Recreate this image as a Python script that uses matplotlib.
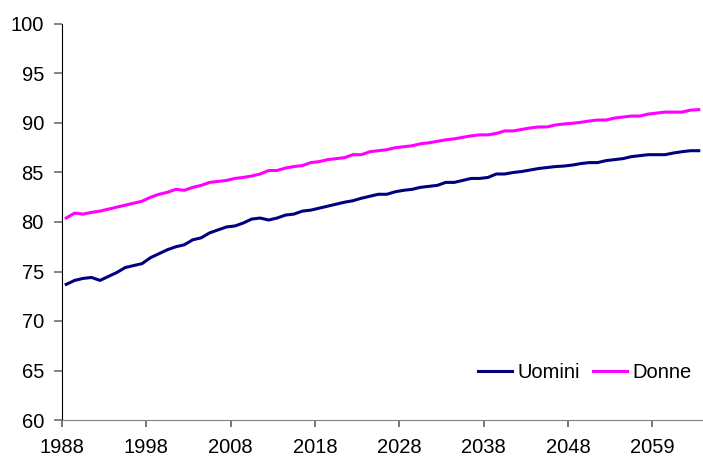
import numpy as np
import matplotlib.pyplot as plt

plt.rcParams['font.family'] = ['Liberation Sans', 'DejaVu Sans']

# years on the category axis (one year is missing in the source series)
years = list(range(1988, 2051)) + list(range(2052, 2065))

uomini = [73.7, 74.1, 74.3, 74.4, 74.1, 74.5, 74.9, 75.4, 75.6, 75.8,
          76.4, 76.8, 77.2, 77.5, 77.7, 78.2, 78.4, 78.9, 79.2, 79.5,
          79.6, 79.9, 80.3, 80.4, 80.2, 80.4, 80.7, 80.8, 81.1, 81.2,
          81.4, 81.6, 81.8, 82.0, 82.15, 82.4, 82.6, 82.8, 82.8, 83.05,
          83.2, 83.3, 83.5, 83.6, 83.7, 84.0, 84.0, 84.2, 84.4, 84.4,
          84.5, 84.85, 84.85, 85.0, 85.1, 85.25, 85.4, 85.5, 85.6, 85.65,
          85.75, 85.9, 86.0, 86.0, 86.2, 86.3, 86.4, 86.6, 86.7, 86.8,
          86.8, 86.8, 86.97, 87.1, 87.2, 87.2]

donne = [80.4, 80.9, 80.8, 80.97, 81.1, 81.3, 81.5, 81.7, 81.9, 82.1,
         82.5, 82.8, 83.0, 83.3, 83.2, 83.5, 83.7, 84.0, 84.1, 84.2,
         84.4, 84.5, 84.65, 84.85, 85.2, 85.2, 85.45, 85.6, 85.7, 86.0,
         86.1, 86.3, 86.4, 86.5, 86.8, 86.8, 87.1, 87.2, 87.3, 87.5,
         87.6, 87.7, 87.9, 88.0, 88.15, 88.3, 88.4, 88.55, 88.7, 88.8,
         88.8, 88.95, 89.2, 89.2, 89.35, 89.5, 89.6, 89.6, 89.8, 89.9,
         89.97, 90.07, 90.2, 90.3, 90.3, 90.5, 90.6, 90.7, 90.7, 90.9,
         91.0, 91.1, 91.1, 91.1, 91.3, 91.35]

yticks = [60, 65, 70, 75, 80, 85, 90, 95, 100]

fig = plt.figure(figsize=(7.03, 4.59), dpi=100)
ax = fig.add_axes([62/703, 1 - 420/459, 641/703, 396/459])

idx = np.arange(len(years))
ax.plot(idx, uomini, color='#000080', linewidth=2.2, label='Uomini')
ax.plot(idx, donne, color='#FF00FF', linewidth=2.2, label='Donne')

ax.set_xlim(-0.5, len(years) - 0.5)
ax.set_ylim(60, 100)
ax.set_yticks(yticks)
ax.set_yticklabels([str(v) for v in yticks])
tick_idx = list(range(0, len(years), 10))
ax.set_xticks([i - 0.5 for i in tick_idx])
ax.set_xticklabels([str(years[i]) for i in tick_idx])

for side in ['top', 'right']:
    ax.spines[side].set_visible(False)
ax.spines['left'].set_color('#000000')
ax.spines['bottom'].set_color('#808080')
ax.tick_params(axis='y', direction='out', length=5.5, width=1.2, color='#707070',
               labelsize=14.5, pad=7.5)
ax.tick_params(axis='x', direction='out', length=5, width=1.2, color='#606060',
               labelsize=14.5, pad=8)

ax.legend(loc='center right', bbox_to_anchor=(0.982, 0.121), ncol=2, frameon=False,
          fontsize=14.5, handlelength=1.7, handletextpad=0.25, columnspacing=0.65,
          borderaxespad=0, borderpad=0)

fig.savefig('out.png', dpi=100)
